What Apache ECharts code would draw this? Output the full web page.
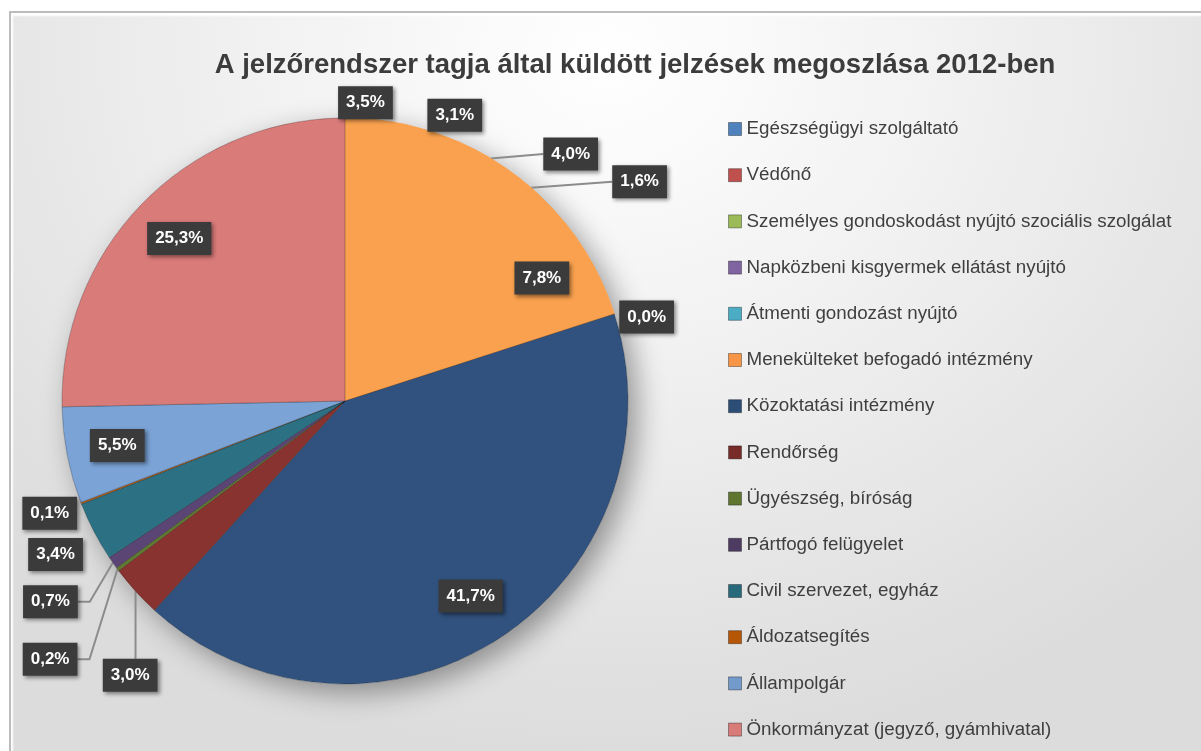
<!DOCTYPE html>
<html>
<head>
<meta charset="utf-8">
<script src="https://cdn.jsdelivr.net/npm/echarts@6/dist/echarts.min.js"></script>
<style>
  html, body { margin: 0; padding: 0; background: #fff; }
  #frame {
    position: absolute; left: 9px; top: 11px; width: 1190px; height: 738px;
    border-top: 2px solid #bcbcbc; border-left: 2px solid #bcbcbc;
    background: radial-gradient(ellipse 70% 95% at 50% 6%, #ffffff 0%, #f2f2f2 40%, #dcdcdc 100%);
    box-shadow: inset 2px 3px 2px #ffffff;
  }
  #chart { position: absolute; left: 0; top: 0; width: 1201px; height: 751px; }
</style>
</head>
<body>
<div id="frame"></div>
<div id="chart"></div>
<script>
const titleText = 'A jelzőrendszer tagja által küldött jelzések megoszlása 2012-ben';

const categories = [
  'Egészségügyi szolgáltató',
  'Védőnő',
  'Személyes gondoskodást nyújtó szociális szolgálat',
  'Napközbeni kisgyermek ellátást nyújtó',
  'Átmenti gondozást nyújtó',
  'Menekülteket befogadó intézmény',
  'Közoktatási intézmény',
  'Rendőrség',
  'Ügyészség, bíróság',
  'Pártfogó felügyelet',
  'Civil szervezet, egyház',
  'Áldozatsegítés',
  'Állampolgár',
  'Önkormányzat (jegyző, gyámhivatal)'
];
const values = [3.5, 3.1, 4.0, 1.6, 7.8, 0.0, 41.7, 3.0, 0.2, 0.7, 3.4, 0.1, 5.5, 25.3];

// slice colours as they appear in the picture (first five are drawn orange)
const sliceColors = ['#F9A14E', '#F9A14E', '#F9A14E', '#F9A14E', '#F9A14E', '#F9A14E',
  '#31527F', '#88332F', '#617B31', '#5A4575', '#2B7183', '#B65E12', '#7BA3D6', '#D97B79'];
const legendColors = ['#4F81BD', '#C0504D', '#9BBB59', '#8064A2', '#4BACC6', '#F79646',
  '#2C4D75', '#772C2A', '#5F7530', '#4D3B62', '#276A7C', '#B65708', '#729ACA', '#D97B79'];

// label placement: 'in' = inside the slice, 'out' = outside w/o line, 'line' = outside with leader
const labelMode = ['out', 'out', 'line', 'line', 'in', 'out', 'in', 'line', 'line', 'line', 'out', 'out', 'in', 'in'];
const lineLen = {2: [5, 45], 3: [8, 71], 7: [0, 12], 8: [0, 12], 9: [0, 12]};
const nudge = {0: [-43, -17], 1: [-11, -17], 2: [0, 0], 3: [0, 0], 5: [0, 3], 10: [-6, 23], 11: [1, 10],
  7: [39, 84], 8: [-23, 90], 9: [-18, 39]};
// where the leader of a moved label meets its box
const leaderTo = {2: 'left', 3: 'left', 7: 'top', 8: 'right', 9: 'right'};

const CX = 345, CY = 401, R = 283;
const total = values.reduce((a, b) => a + b, 0);
const midAngle = [];
let acc = 0;
values.forEach(v => { midAngle.push((acc + v / 2) / total * 2 * Math.PI); acc += v; });

const chart = echarts.init(document.getElementById('chart'));

const pieData = categories.map((name, i) => {
  const mode = labelMode[i];
  const ll = lineLen[i] || [0, 0];
  return {
    name: name,
    value: values[i],
    itemStyle: i < 6 ? {color: sliceColors[i], borderColor: sliceColors[i]} : {color: sliceColors[i]},
    label: {position: mode === 'in' ? 'inside' : 'outside'},
    labelLine: {show: mode === 'line', length: ll[0], length2: ll[1]}
  };
});

const option = {
  animation: false,
  title: {
    text: titleText,
    left: 630,
    top: 46,
    textAlign: 'center',
    textStyle: {fontFamily: 'Liberation Sans', fontSize: 27.5, fontWeight: 'bold', color: '#3c3c3c'}
  },
  legend: {
    orient: 'vertical',
    left: 723,
    top: 114,
    itemWidth: 13,
    itemHeight: 13,
    itemGap: 26.2,
    icon: 'rect',
    selectedMode: false,
    textStyle: {fontFamily: 'Liberation Sans', fontSize: 18.8, color: '#3f3f3f', lineHeight: 20},
    data: categories.map((name, i) => ({
      name: name,
      itemStyle: {color: legendColors[i], borderColor: 'rgba(0,0,0,0.35)', borderWidth: 1}
    }))
  },
  series: [
    {
      // soft drop shadow behind the pie
      type: 'pie',
      silent: true,
      center: [CX, CY],
      radius: R,
      z: 1,
      label: {show: false},
      labelLine: {show: false},
      itemStyle: {color: '#ffffff', shadowBlur: 28, shadowOffsetX: 9, shadowOffsetY: 9, shadowColor: 'rgba(0,0,0,0.38)'},
      data: [{name: '', value: 1}]
    },
    {
      type: 'pie',
      center: [CX, CY],
      radius: R,
      startAngle: 90,
      clockwise: true,
      z: 2,
      avoidLabelOverlap: false,
      itemStyle: {borderColor: 'rgba(0,0,0,0.25)', borderWidth: 1},
      label: {
        show: true,
        formatter: p => p.value.toFixed(1).replace('.', ',') + '%',
        color: '#ffffff',
        fontFamily: 'Liberation Sans',
        fontSize: 17,
        fontWeight: 'bold',
        lineHeight: 19,
        backgroundColor: '#3b3b3b',
        padding: [7, 8, 7, 8],
        shadowBlur: 4,
        shadowOffsetX: 2,
        shadowOffsetY: 2,
        shadowColor: 'rgba(0,0,0,0.45)'
      },
      labelLine: {lineStyle: {color: '#8c8c8c', width: 2}},
      labelLayout: function (params) {
        const i = params.dataIndex;
        const r = params.labelRect;
        const a = midAngle[i];
        if (labelMode[i] === 'in') {
          const k = 0.82 * R;
          return {
            x: CX + k * Math.sin(a) - r.width / 2,
            y: CY - k * Math.cos(a) - r.height / 2,
            align: 'left', verticalAlign: 'top'
          };
        }
        const n = nudge[i];
        if (!n) return;
        const x = r.x + n[0], y = r.y + n[1];
        const res = {x: x, y: y, align: 'left', verticalAlign: 'top'};
        const side = leaderTo[i];
        if (side) {
          const p0 = [CX + R * Math.sin(a), CY - R * Math.cos(a)];
          if (side === 'top') {
            res.labelLinePoints = [p0, [p0[0], (p0[1] + y) / 2], [p0[0], y]];
          } else if (side === 'left') {
            const end = [x, y + r.height / 2];
            res.labelLinePoints = [p0, [(p0[0] + end[0]) / 2, (p0[1] + end[1]) / 2], end];
          } else {
            const end = [x + r.width, y + r.height / 2];
            res.labelLinePoints = [p0, [end[0] + 12, end[1]], end];
          }
        }
        return res;
      },
      data: pieData
    }
  ]
};

chart.setOption(option);
</script>
</body>
</html>
